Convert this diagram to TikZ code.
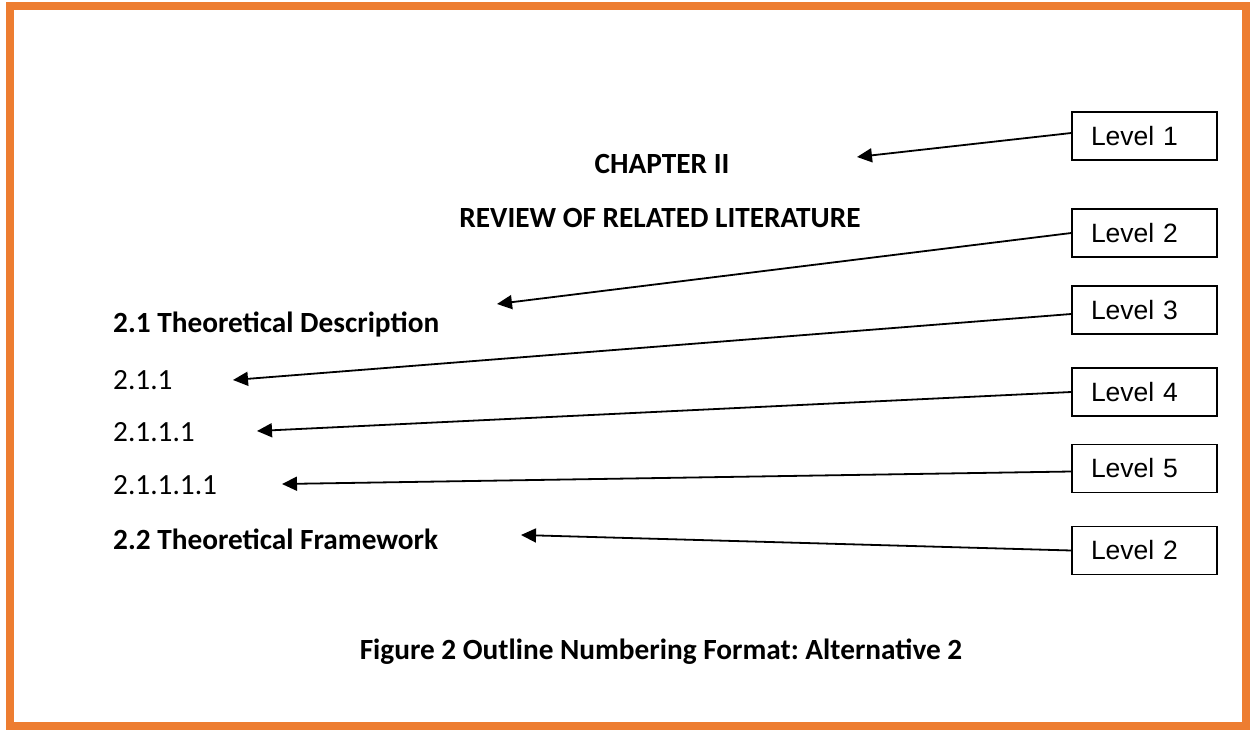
\documentclass[tikz,border=0pt]{standalone}
\usepackage{fontspec}
\setmainfont{Carlito}
\newfontfamily\arialfont{Liberation Sans}
\usetikzlibrary{arrows.meta}
\definecolor{frameorange}{HTML}{ED7D31}
\frenchspacing
\begin{document}
\begin{tikzpicture}[x=1pt,y=-1pt,
  levelbox/.style={draw,line width=1.4pt,minimum height=48pt,inner ysep=0pt,inner xsep=19pt,
    text width=107pt,align=left,font=\arialfont\fontsize{26.5}{30}\selectfont},
  heading/.style={font=\bfseries\fontsize{29.3}{34}\selectfont,inner sep=0pt},
  plain/.style={font=\fontsize{29.3}{34}\selectfont,inner sep=0pt},
  pointer/.style={line width=1.8pt,-{Triangle[length=15pt,width=14pt]}}]
\useasboundingbox (0,0) rectangle (1250,730);
\draw[frameorange,line width=8pt] (10,6) rectangle (1246,726);
% left texts
\node[heading] (ch) at (662,164) {CHAPTER II};
\node[heading] (rv) at (660,218) {REVIEW OF RELATED LITERATURE};
\node[heading,anchor=west] (s21) at (113,325) {2.1 Theoretical Description};
\node[plain,anchor=west] (s211) at (113,380) {2.1.1};
\node[plain,anchor=west] (s2111) at (113,432) {2.1.1.1};
\node[plain,anchor=west] (s21111) at (113,485) {2.1.1.1.1};
\node[heading,anchor=west] (s22) at (113,539) {2.2 Theoretical Framework};
\node[heading] (cap) at (661,652) {Figure 2 Outline Numbering Format: Alternative 2};
% level boxes
\node[levelbox] (L1) at (1144.5,136) {Level 1};
\node[levelbox] (L2) at (1144.5,233) {Level 2};
\node[levelbox] (L3) at (1144.5,310) {Level 3};
\node[levelbox] (L4) at (1144.5,392) {Level 4};
\node[levelbox] (L5) at (1144.5,468.5) {Level 5};
\node[levelbox] (L6) at (1144.5,550.5) {Level 2};
% arrow tips
\coordinate (t1) at (857,157);
\coordinate (t2) at (497,304);
\coordinate (t3) at (233,380);
\coordinate (t4) at (257,431);
\coordinate (t5) at (282,484);
\coordinate (t6) at (521,535);
\draw[pointer] ([yshift=3pt]L1.west) -- (t1);
\draw[pointer] (L2.west) -- (t2);
\draw[pointer] ([yshift=-4pt]L3.west) -- (t3);
\draw[pointer] (L4.west) -- (t4);
\draw[pointer] ([yshift=-3pt]L5.west) -- (t5);
\draw[pointer] (L6.west) -- (t6);
\end{tikzpicture}
\end{document}
